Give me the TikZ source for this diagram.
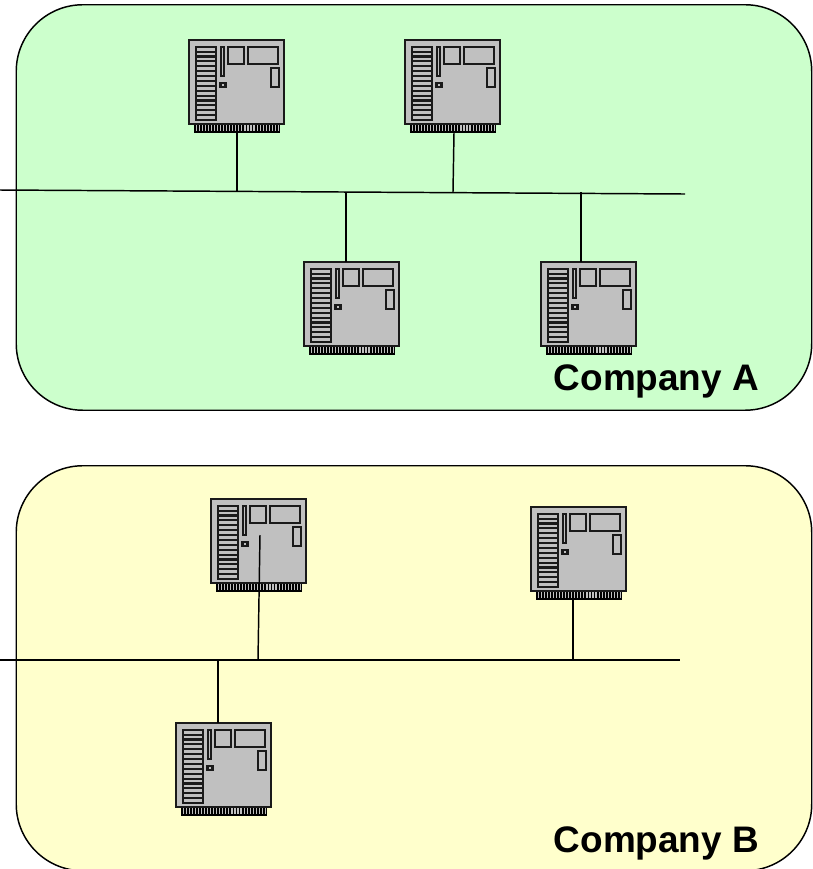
\documentclass[tikz,border=0pt]{standalone}
\usepackage{fontspec}
\setmainfont{Liberation Sans}
\definecolor{boardgrey}{HTML}{C0C0C0}
\definecolor{zoneA}{HTML}{CCFFCC}
\definecolor{zoneB}{HTML}{FFFFCC}
\definecolor{edgegrey}{HTML}{1A1A1A}
\tikzset{
  x=0.75pt,y=-0.75pt,
  zone/.style={draw=black,line width=1.1pt,rounded corners=50pt},
  wire/.style={draw=black,line width=1.1pt},
  partbox/.style={draw=edgegrey,line width=1.5pt,fill=boardgrey},
  label/.style={font=\bfseries\fontsize{27.7}{30}\selectfont,inner sep=0pt,anchor=base west},
  board/.pic={
    \fill[black] (5,84) rectangle (91,93);
    \foreach \i in {0,...,27}{\fill[boardgrey] ({6.5+3.05*\i},85) rectangle ({7.7+3.05*\i},91);}
    \draw[partbox,line width=1.6pt] (0,0) rectangle (95,84);
    \fill[boardgrey] (6.7,6.7) rectangle (27,80);
    \draw[edgegrey,line width=1.2pt] (6.7,6.7) rectangle (27,80);
    \foreach \i in {0,...,15}{\draw[edgegrey,line width=1.6pt] (6.7,{6.7+4.89*\i}) -- (27,{6.7+4.89*\i});}
    \draw[partbox,line width=1.2pt] (32,6.7) rectangle (35,36);
    \draw[partbox,line width=1.7pt] (31.5,43) rectangle (36.5,47);
    \draw[partbox] (39,6.7) rectangle (55,24);
    \draw[partbox] (59,6.7) rectangle (89,24);
    \draw[partbox] (82,28) rectangle (90,47);
  }
}
\begin{document}
\begin{tikzpicture}
\useasboundingbox (0,0) rectangle (813,869);
\begin{scope}
\clip (0,0) rectangle (813,869);
\node[zone,fill=zoneA,minimum width=795.5*0.75pt,minimum height=405.5*0.75pt,inner sep=0pt,anchor=north west] (zoneA) at (15.5,4) {};
\node[zone,fill=zoneB,minimum width=795.5*0.75pt,minimum height=405*0.75pt,inner sep=0pt,anchor=north west] (zoneB) at (15.5,465) {};
\end{scope}
\pic at (189,40) {board};
\pic at (405,40) {board};
\pic at (304,262) {board};
\pic at (541,262) {board};
\pic at (211,499) {board};
\pic at (531,507) {board};
\pic at (176,723) {board};
% bus A
\coordinate (busAl) at (0,190);
\coordinate (busAr) at (685,194);
\draw[wire] (busAl) -- (busAr);
\coordinate (a1t) at (237,133); \coordinate (a1b) at (237,191);
\coordinate (a2t) at (454,133); \coordinate (a2b) at (453,192);
\coordinate (a3t) at (346,192); \coordinate (a3b) at (346,262);
\coordinate (a4t) at (581,192); \coordinate (a4b) at (581,262);
\draw[wire] (a1t) -- (a1b);
\draw[wire] (a2t) -- (a2b);
\draw[wire] (a3t) -- (a3b);
\draw[wire] (a4t) -- (a4b);
% bus B
\coordinate (busBl) at (0,660);
\coordinate (busBr) at (680,660);
\draw[wire] (busBl) -- (busBr);
\coordinate (b1t) at (260,535); \coordinate (b1b) at (258,660);
\coordinate (b2t) at (573,600); \coordinate (b2b) at (573,660);
\coordinate (b3t) at (218,660); \coordinate (b3b) at (218,723);
\draw[wire] (b1t) -- (b1b);
\draw[wire] (b2t) -- (b2b);
\draw[wire] (b3t) -- (b3b);
\node[label] (labA) at (553.5,390) {Company A};
\node[label] (labB) at (553.5,852) {Company B};
\end{tikzpicture}
\end{document}
